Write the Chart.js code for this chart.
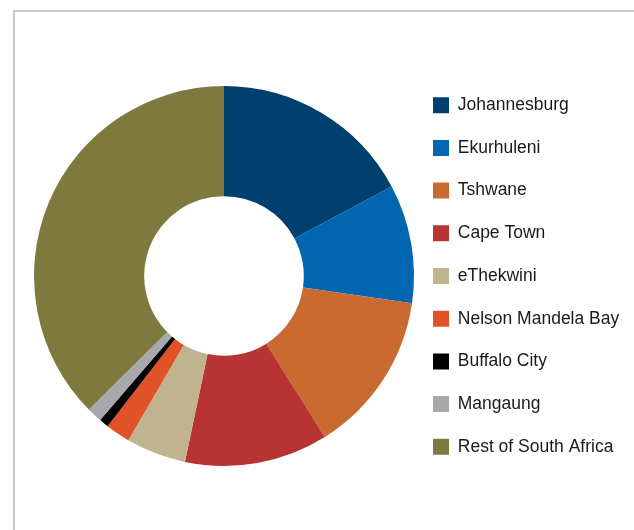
<!DOCTYPE html>
<html>
<head>
<meta charset="utf-8">
<script src="https://cdn.jsdelivr.net/npm/chart.js@4/dist/chart.umd.min.js"></script>
<style>
  html, body { margin: 0; padding: 0; background: #fff; overflow: hidden; }
  #frame {
    position: absolute; left: 13px; top: 10px; width: 700px; height: 600px;
    border-top: 2px solid #c8c8c8; border-left: 2px solid #c8c8c8;
  }
  #wrap { position: absolute; left: 0; top: 0; width: 634px; height: 530px; }
</style>
</head>
<body>
<div id="frame"></div>
<div id="wrap"><canvas id="chart_metro_share" width="634" height="530"></canvas></div>
<script>
  // share of national total, per metro (%)
  const metros = [
    'Johannesburg', 'Ekurhuleni', 'Tshwane', 'Cape Town', 'eThekwini',
    'Nelson Mandela Bay', 'Buffalo City', 'Mangaung', 'Rest of South Africa'
  ];
  const shares = [17.2, 10.1, 13.8, 12.2, 5.1, 2.1, 0.8, 1.3, 37.4];
  const colors = [
    '#00406e', '#0066b2', '#c96a30', '#b73432', '#c0b48f',
    '#e25228', '#000000', '#a6a8ab', '#7e7a3e'
  ];

  let type = 'doughnut';

  let data = {
    labels: metros,
    datasets: [
      {
        data: shares,
        backgroundColor: colors,
        borderWidth: 0
      }
    ]
  };

  let options = {
    responsive: false,
    animation: false,
    radius: 190,
    cutout: '42%',
    layout: {
      padding: { left: 40.2, top: 22, right: 4.75, bottom: 0 }
    },
    plugins: {
      tooltip: { enabled: false },
      legend: {
        position: 'right',
        labels: {
          boxWidth: 16,
          boxHeight: 16,
          padding: 25.2,
          color: '#1a1a1a',
          font: {
            family: "'Liberation Sans', Arial, Helvetica, sans-serif",
            size: 17.5
          }
        }
      }
    }
  };

  new Chart('chart_metro_share', { type, data, options });
</script>
</body>
</html>
